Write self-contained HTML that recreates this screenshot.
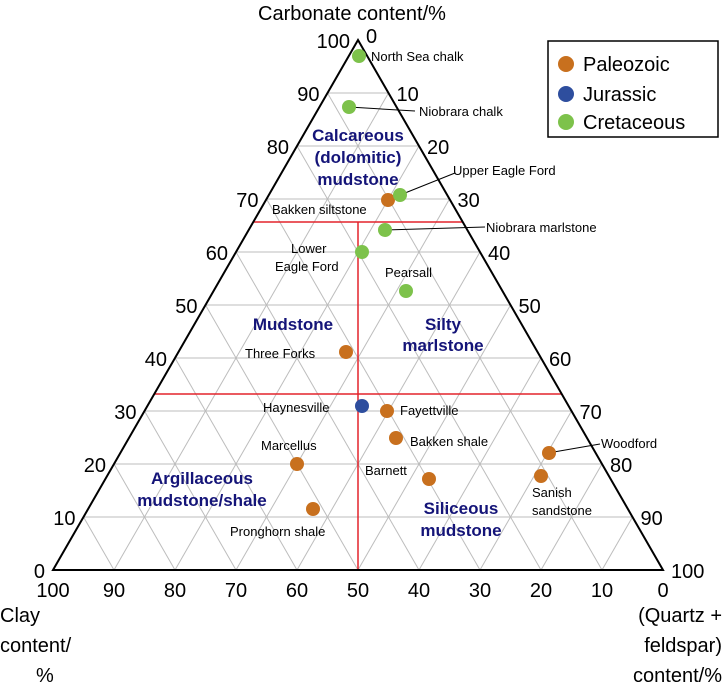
<!DOCTYPE html>
<html><head><meta charset="utf-8"><style>
html,body{margin:0;padding:0;background:#fff}
svg{display:block;font-family:"Liberation Sans",Arial,sans-serif}
</style></head><body>
<svg id="s" width="726" height="688" viewBox="0 0 726 688" xmlns="http://www.w3.org/2000/svg">
<g id="grid" stroke="#bdbdbd" stroke-width="1"></g>
<g stroke="#e3232b" stroke-width="1.5">
<line x1="253" y1="222" x2="463" y2="222"/>
<line x1="154" y1="394" x2="562" y2="394"/>
<line x1="358" y1="222" x2="358" y2="570"/>
</g>
<polygon points="358,40 53,570 663,570" fill="none" stroke="#000" stroke-width="2"/>
<g id="lab" font-size="20" fill="#000"></g>
<text x="352" y="20" font-size="20" text-anchor="middle">Carbonate content/%</text>
<g font-size="20">
<text x="0" y="622">Clay</text>
<text x="0" y="652">content/</text>
<text x="36" y="682">%</text>
<text x="722" y="622" text-anchor="end">(Quartz +</text>
<text x="722" y="652" text-anchor="end">feldspar)</text>
<text x="722" y="682" text-anchor="end">content/%</text>
</g>
<g fill="#141478" font-size="17" font-weight="bold" text-anchor="middle">
<text x="358" y="141">Calcareous</text><text x="358" y="163">(dolomitic)</text><text x="358" y="185">mudstone</text>
<text x="293" y="330">Mudstone</text>
<text x="443" y="330">Silty</text><text x="443" y="351">marlstone</text>
<text x="202" y="484">Argillaceous</text><text x="202" y="506">mudstone/shale</text>
<text x="461" y="514">Siliceous</text><text x="461" y="536">mudstone</text>
</g>
<g stroke="#000" stroke-width="1">
<line x1="349" y1="107" x2="415" y2="111"/>
<line x1="400" y1="195" x2="455" y2="173"/>
<line x1="385" y1="230" x2="485" y2="227"/>
<line x1="548" y1="453" x2="600" y2="444"/>
</g>
<g>
<circle cx="359" cy="56" r="7" fill="#7dc24b"/>
<circle cx="349" cy="107" r="7" fill="#7dc24b"/>
<circle cx="388" cy="200" r="7" fill="#c8701e"/>
<circle cx="400" cy="195" r="7" fill="#7dc24b"/>
<circle cx="385" cy="230" r="7" fill="#7dc24b"/>
<circle cx="362" cy="252" r="7" fill="#7dc24b"/>
<circle cx="406" cy="291" r="7" fill="#7dc24b"/>
<circle cx="346" cy="352" r="7" fill="#c8701e"/>
<circle cx="362" cy="406" r="7" fill="#2e4e9e"/>
<circle cx="387" cy="411" r="7" fill="#c8701e"/>
<circle cx="396" cy="438" r="7" fill="#c8701e"/>
<circle cx="297" cy="464" r="7" fill="#c8701e"/>
<circle cx="429" cy="479" r="7" fill="#c8701e"/>
<circle cx="549" cy="453" r="7" fill="#c8701e"/>
<circle cx="541" cy="476" r="7" fill="#c8701e"/>
<circle cx="313" cy="509" r="7" fill="#c8701e"/>
</g>
<g font-size="13" fill="#000">
<text x="371" y="61">North Sea chalk</text>
<text x="419" y="116">Niobrara chalk</text>
<text x="453" y="175">Upper Eagle Ford</text>
<text x="272" y="214">Bakken siltstone</text>
<text x="486" y="232">Niobrara marlstone</text>
<text x="291" y="253">Lower</text>
<text x="275" y="271">Eagle Ford</text>
<text x="385" y="277">Pearsall</text>
<text x="245" y="358">Three Forks</text>
<text x="263" y="412">Haynesville</text>
<text x="400" y="415">Fayettville</text>
<text x="410" y="446">Bakken shale</text>
<text x="261" y="450">Marcellus</text>
<text x="365" y="475">Barnett</text>
<text x="601" y="448">Woodford</text>
<text x="532" y="497">Sanish</text>
<text x="532" y="515">sandstone</text>
<text x="230" y="536">Pronghorn shale</text>
</g>
<rect x="548" y="41" width="170" height="96" fill="#fff" stroke="#000" stroke-width="1.5"/>
<circle cx="566" cy="64" r="8" fill="#c8701e"/>
<circle cx="566" cy="94" r="8" fill="#2e4e9e"/>
<circle cx="566" cy="122" r="8" fill="#7dc24b"/>
<g font-size="20"><text x="583" y="71">Paleozoic</text><text x="583" y="101">Jurassic</text><text x="583" y="129">Cretaceous</text></g>
</svg>
<script>
var g=document.getElementById('grid'),lab=document.getElementById('lab'),ns='http://www.w3.org/2000/svg';
function L(a,b,c,d){var l=document.createElementNS(ns,'line');l.setAttribute('x1',a);l.setAttribute('y1',b);l.setAttribute('x2',c);l.setAttribute('y2',d);g.appendChild(l);}
function T(x,y,s,a){var t=document.createElementNS(ns,'text');t.setAttribute('x',x);t.setAttribute('y',y);t.setAttribute('text-anchor',a);t.textContent=s;lab.appendChild(t);}
for(var k=1;k<10;k++){
 var y=570-53*k;L(53+30.5*k,y,663-30.5*k,y);
 var bx=53+61*k;
 L(bx,570,bx+305*(1-k/10),570-530*(1-k/10));
 L(bx,570,bx-305*(k/10),570-530*(k/10));
}
for(var k=0;k<=10;k++){
 var y=570-53*k;
 T(53+30.5*k-8,y+8,String(k*10),'end');
 T(663-30.5*k+8,y+(k==10?3:8),String(100-k*10),'start');
 T(53+61*k,597,String(100-k*10),'middle');
}
</script>
</body></html>
